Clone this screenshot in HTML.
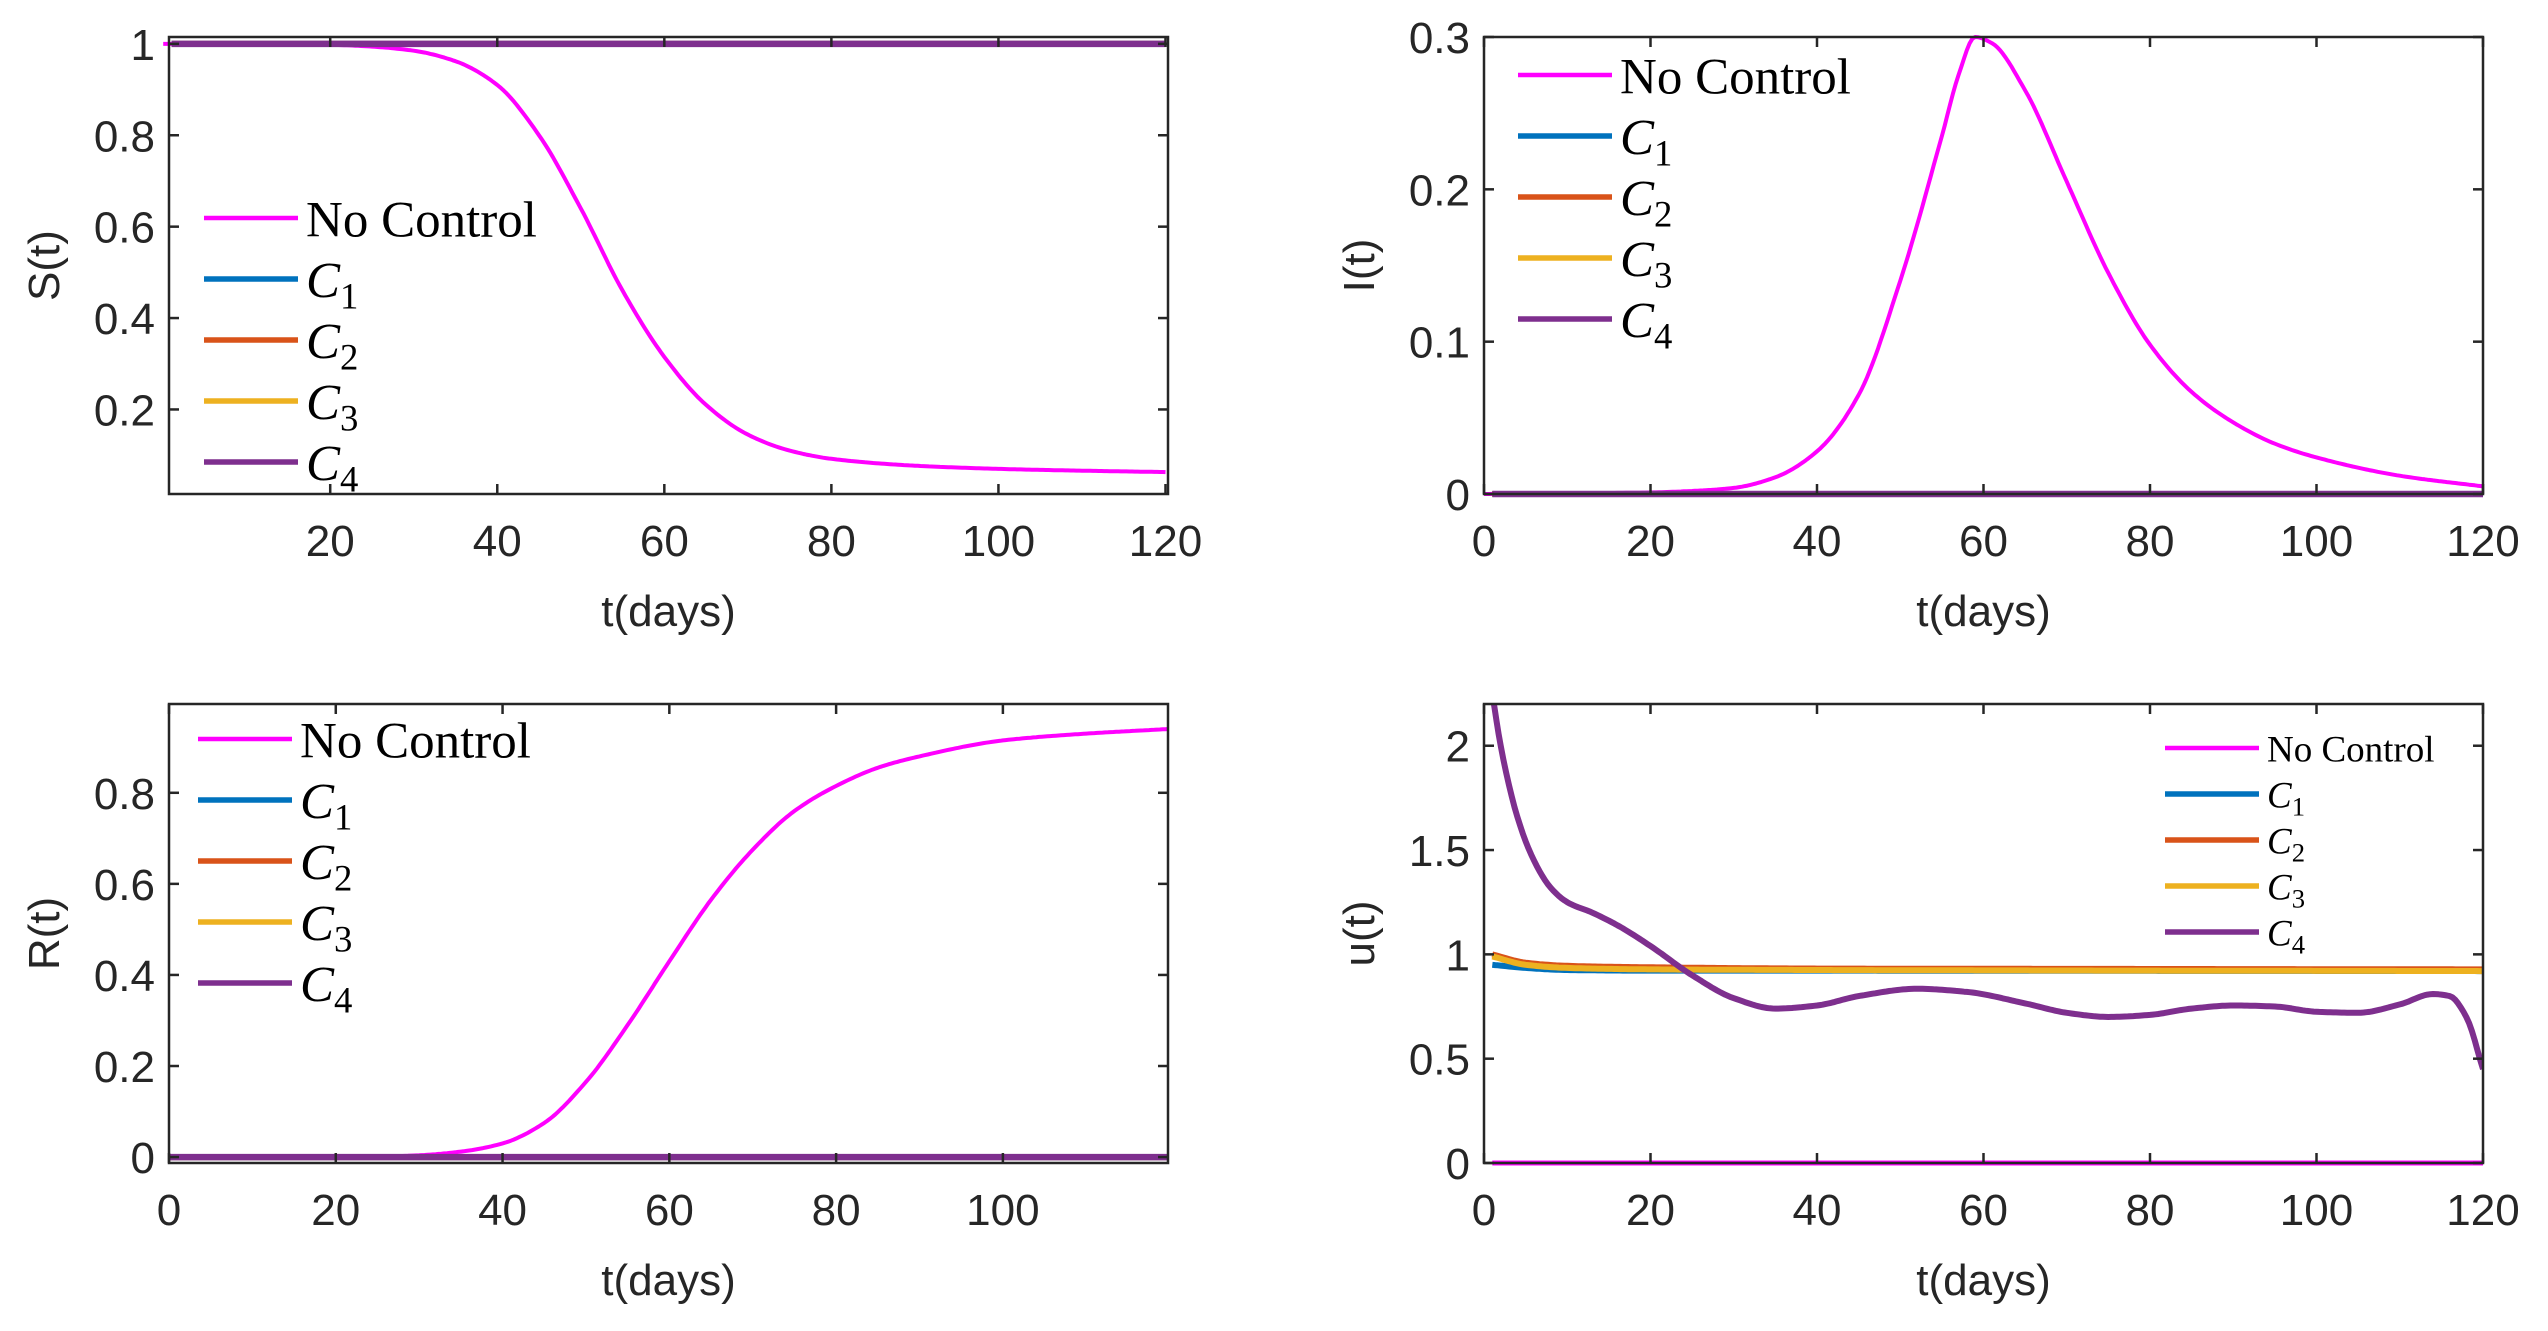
<!DOCTYPE html>
<html><head><meta charset="utf-8">
<style>
html,body{margin:0;padding:0;background:#fff;}
svg{display:block;}
.tick{font-family:"Liberation Sans",sans-serif;font-size:44px;fill:#262626;}
.lab{font-family:"Liberation Sans",sans-serif;font-size:44px;fill:#262626;}
.leg{font-family:"Liberation Serif",serif;fill:#000;}
</style></head>
<body>
<svg id="fig" width="2548" height="1331" viewBox="0 0 2548 1331" xmlns="http://www.w3.org/2000/svg"></svg>
<script>
// ---- data ----
const sT = [0,10,20,25,30,35,40,45,50,55,60,65,70,75,80,90,100,110,120];
const sNoControl = [1,1,0.998,0.994,0.985,0.962,0.91,0.80,0.64,0.46,0.315,0.21,0.145,0.11,0.092,0.077,0.07,0.066,0.063];
const sControlT = [1,120];
const sControl = [1,1];

const iT = [0,20,25,30,35,40,45,50,55,57,59,61,65,70,75,80,85,90,95,100,110,120];
const iNoControl = [0,0.001,0.002,0.004,0.011,0.028,0.065,0.14,0.235,0.275,0.30,0.296,0.265,0.205,0.145,0.098,0.067,0.047,0.033,0.024,0.012,0.005];
const iControlT = [1,120];
const iControl = [0,0];

const rT = [0,25,30,35,40,45,50,55,60,65,70,75,80,85,90,100,110,119.8];
const rNoControl = [0,0.001,0.004,0.012,0.03,0.075,0.165,0.29,0.43,0.565,0.675,0.76,0.815,0.855,0.88,0.915,0.93,0.94];
const rControlT = [0,119.8];
const rControl = [0,0];

const uT = [1,2,4,6,8,10,13,16,20,25,30,35,40,45,52,58,65,70,75,80,85,90,95,100,105,110,114,116,118,120];
const uC4 = [2.25,2.0,1.66,1.45,1.32,1.25,1.20,1.14,1.04,0.90,0.79,0.74,0.755,0.80,0.835,0.82,0.765,0.72,0.70,0.71,0.74,0.755,0.75,0.725,0.72,0.76,0.81,0.80,0.70,0.45];
const uCT = [1,5,10,20,40,80,120];
const uC1 = [0.95,0.935,0.925,0.922,0.922,0.921,0.92];
const uC2 = [1.0,0.96,0.945,0.938,0.932,0.93,0.928];
const uC3 = [0.99,0.95,0.935,0.928,0.925,0.922,0.92];
const uNoT = [1,120];
const uNo = [0,0];

const xTicksS = [20,40,60,80,100,120];
const xTicksFull = [0,20,40,60,80,100,120];
const xTicksR = [0,20,40,60,80,100];
const yTicksS = [0.2,0.4,0.6,0.8,1];
const yTicksI = [0,0.1,0.2,0.3];
const yTicksR = [0,0.2,0.4,0.6,0.8];
const yTicksU = [0,0.5,1,1.5,2];
const legendLabels = ["No Control","C1","C2","C3","C4"];

const MAG="#FF00FF", BLUE="#0072BD", ORANGE="#D95319", YEL="#EDB120", PUR="#7E2F8E";
const NS="http://www.w3.org/2000/svg";
const fig=document.getElementById('fig');
function mk(tag,attrs,parent){const e=document.createElementNS(NS,tag);for(const k in attrs)e.setAttribute(k,attrs[k]);(parent||fig).appendChild(e);return e;}

function makeAxes(name,L,T,R,B,xlim,ylim){
  const g=mk('g',{});
  
  
  const sx=v=>L+(v-xlim[0])/(xlim[1]-xlim[0])*(R-L);
  const sy=v=>B-(v-ylim[0])/(ylim[1]-ylim[0])*(B-T);
  return {g,sx,sy,L,T,R,B};
}
// monotone cubic Hermite (Fritsch-Carlson), sampled densely
function interp(xs,ys){
  const n=xs.length;
  if(n<3){return {xs:xs.slice(),ys:ys.slice()};}
  const d=[],m=new Array(n);
  for(let i=0;i<n-1;i++)d.push((ys[i+1]-ys[i])/(xs[i+1]-xs[i]));
  m[0]=d[0];m[n-1]=d[n-2];
  for(let i=1;i<n-1;i++){
    if(d[i-1]*d[i]<=0)m[i]=0;
    else{const h0=xs[i]-xs[i-1],h1=xs[i+1]-xs[i];const w1=2*h1+h0,w2=h1+2*h0;m[i]=(w1+w2)/(w1/d[i-1]+w2/d[i]);}
  }
  const ox=[],oy=[];
  for(let i=0;i<n-1;i++){
    const h=xs[i+1]-xs[i];const steps=Math.max(4,Math.ceil(h*3));
    for(let k=0;k<steps;k++){
      const t=k/steps;const t2=t*t,t3=t2*t;
      const y=(2*t3-3*t2+1)*ys[i]+(t3-2*t2+t)*h*m[i]+(-2*t3+3*t2)*ys[i+1]+(t3-t2)*h*m[i+1];
      ox.push(xs[i]+t*h);oy.push(y);
    }
  }
  ox.push(xs[n-1]);oy.push(ys[n-1]);
  return {xs:ox,ys:oy};
}
function series(ax,xs,ys,color,w,name){
  const s=interp(xs,ys);
  const d=s.xs.map((x,i)=>(i?'L':'M')+ax.sx(x).toFixed(1)+','+ax.sy(s.ys[i]).toFixed(1)).join(' ');
  const e=mk('path',{d:d,fill:'none',stroke:color,'stroke-width':w,'stroke-linejoin':'round'},ax.g);
  
  
}
function frame(ax,xt,yt,ylab){
  const {g,L,T,R,B}=ax;
  const box=mk('rect',{x:L,y:T,width:R-L,height:B-T,fill:'none',stroke:'#262626','stroke-width':2.5},g);
  
  
  xt.forEach(v=>{const x=ax.sx(v);
    mk('line',{x1:x,y1:B,x2:x,y2:B-10,stroke:'#262626','stroke-width':2.5},g);
    mk('line',{x1:x,y1:T,x2:x,y2:T+10,stroke:'#262626','stroke-width':2.5},g);
    const t=mk('text',{x:x,y:B+62,'text-anchor':'middle',class:'tick'},g);t.textContent=v;
    
    
  });
  yt.forEach(v=>{const y=ax.sy(v);
    mk('line',{x1:L,y1:y,x2:L+10,y2:y,stroke:'#262626','stroke-width':2.5},g);
    mk('line',{x1:R,y1:y,x2:R-10,y2:y,stroke:'#262626','stroke-width':2.5},g);
    const t=mk('text',{x:L-14,y:y+16,'text-anchor':'end',class:'tick'},g);t.textContent=v;
    
    
  });
  const xl=mk('text',{x:(L+R)/2,y:B+132,'text-anchor':'middle',class:'lab'},g);xl.textContent='t(days)';
  
  
  const cx=L-110,cy=(T+B)/2;
  const yl=mk('text',{x:cx,y:cy,'text-anchor':'middle',class:'lab',transform:'rotate(-90 '+cx+' '+cy+')'},g);yl.textContent=ylab;
  
  
}
function legend(ax,x0,y0,dy,len,fs){
  const cols=[MAG,BLUE,ORANGE,YEL,PUR];
  const lg=mk('g',{},ax.g);
  
  
  legendLabels.forEach((lab,i)=>{
    const y=y0+i*dy;
    const ent=mk('g',{},lg);
    
    
    mk('line',{x1:x0,y1:y,x2:x0+len,y2:y,stroke:cols[i],'stroke-width':i==0?4.5:5.5},ent);
    const t=mk('text',{x:x0+len+8,y:y+fs*0.36,class:'leg','font-size':fs},ent);
    if(i==0){t.textContent=lab;}
    else{
      const a=mk('tspan',{'font-style':'italic'},t);a.textContent='C';
      const b=mk('tspan',{dy:fs*0.22,'font-size':fs*0.72},t);b.textContent=lab.slice(1);
    }
  });
}

// S panel
const a1=makeAxes('s-panel',169,37,1168,494,[0.7,120.3],[0.015,1.015]);
series(a1,sT,sNoControl,MAG,4,'s-no-control-line');
series(a1,sControlT,sControl,BLUE,6,'s-c1-line');
series(a1,sControlT,sControl,ORANGE,6,'s-c2-line');
series(a1,sControlT,sControl,YEL,6,'s-c3-line');
series(a1,sControlT,sControl,PUR,6.5,'s-c4-line');
frame(a1,xTicksS,yTicksS,'S(t)');
legend(a1,204,218,61,94,51);

// I panel
const a2=makeAxes('i-panel',1484,37,2483,494,[0,120],[0,0.3]);
series(a2,iT,iNoControl,MAG,4,'i-no-control-line');
series(a2,iControlT,iControl,BLUE,6,'i-c1-line');
series(a2,iControlT,iControl,ORANGE,6,'i-c2-line');
series(a2,iControlT,iControl,YEL,6,'i-c3-line');
series(a2,iControlT,iControl,PUR,6.5,'i-c4-line');
frame(a2,xTicksFull,yTicksI,'I(t)');
legend(a2,1518,75,61,94,51);

// R panel
const a3=makeAxes('r-panel',169,704,1168,1163,[0,119.8],[-0.013,0.995]);
series(a3,rT,rNoControl,MAG,4,'r-no-control-line');
series(a3,rControlT,rControl,BLUE,6,'r-c1-line');
series(a3,rControlT,rControl,ORANGE,6,'r-c2-line');
series(a3,rControlT,rControl,YEL,6,'r-c3-line');
series(a3,rControlT,rControl,PUR,6.5,'r-c4-line');
frame(a3,xTicksR,yTicksR,'R(t)');
legend(a3,198,739,61,94,51);

// u panel
const a4=makeAxes('u-panel',1484,704,2483,1163,[0,120],[0,2.2]);
const clip=mk('clipPath',{id:'c4clip'});mk('rect',{x:1484,y:704,width:999,height:459},clip);
series(a4,uNoT,uNo,MAG,5,'u-no-control-line');
series(a4,uCT,uC1,BLUE,6,'u-c1-line');
series(a4,uCT,uC2,ORANGE,6,'u-c2-line');
series(a4,uCT,uC3,YEL,6,'u-c3-line');
series(a4,uT,uC4,PUR,6,'u-c4-line');
a4.g.lastChild.setAttribute('clip-path','url(#c4clip)');
frame(a4,xTicksFull,yTicksU,'u(t)');
legend(a4,2165,748,46,94,37);
</script>
</body></html>
